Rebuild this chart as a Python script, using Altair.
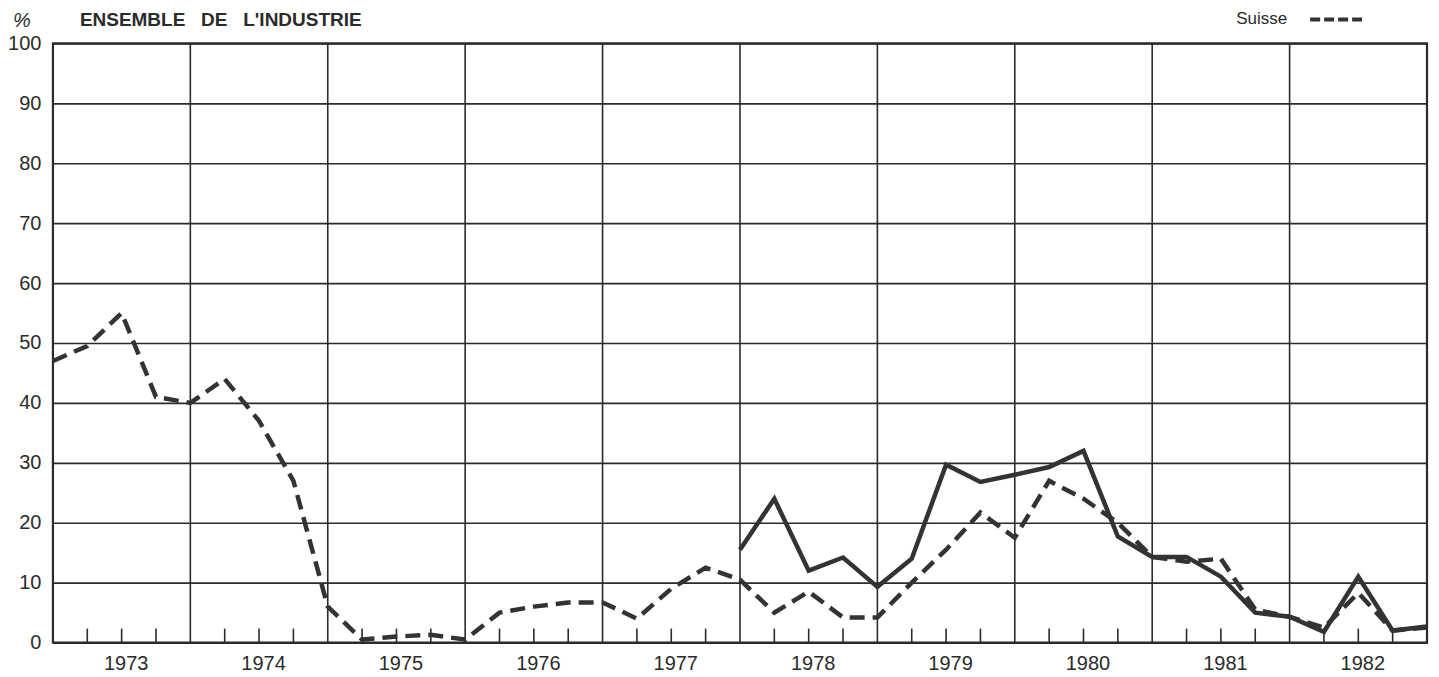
import altair as alt
import pandas as pd

# Quarter index: 0 = start of 1973, 4 per year, 40 = end of 1982
quarters = list(range(41))
suisse = [47, 49.5, 55, 41, 40, 44, 37, 27, 6, 0.5, 1, 1.3, 0.5, 5, 6, 6.7, 6.7, 4,
          9, 12.5, 10.5, 5, 8.5, 4.2, 4.2, 10, 15.5, 21.7, 17.5, 27, 24, 20, 14.3,
          13.5, 14, 5.5, 4.3, 2.5, 8.3, 2, 2.5]
other_quarters = list(range(20, 41))
other = [15.5, 24, 12, 14.2, 9.3, 14, 29.7, 26.8, 28, 29.3, 32, 17.7, 14.3, 14.3,
         11, 5, 4.3, 1.8, 11, 2, 2.7]
year_labels = [1973, 1974, 1975, 1976, 1977, 1978, 1979, 1980, 1981, 1982]
year_bounds = [4, 8, 12, 16, 20, 24, 28, 32, 36]
quarter_ticks = [q for q in range(1, 40) if q % 4 != 0]

FONT = "Liberation Sans"
INK = "#2b2b2b"
NB = "\u00a0"

df_s = pd.DataFrame({"t": quarters, "v": suisse})
df_o = pd.DataFrame({"t": other_quarters, "v": other})
df_b = pd.DataFrame({"t": year_bounds})
df_q = pd.DataFrame({"t": quarter_ticks, "v": [0] * len(quarter_ticks)})

x_scale = alt.Scale(domain=[0, 40], nice=False, zero=False)
y_scale = alt.Scale(domain=[0, 100], nice=False)

x_axis = alt.Axis(values=[2 + 4 * i for i in range(len(year_labels))],
                  labelExpr="toString(1973 + floor(datum.value / 4))",
                  ticks=False, domain=False, grid=False, title=None,
                  labelFontSize=20, labelFont=FONT, labelColor=INK,
                  labelPadding=11, labelOffset=4)
y_axis = alt.Axis(values=list(range(0, 101, 10)), ticks=False, domain=False,
                  grid=True, gridColor=INK, gridWidth=1.6, gridOpacity=1,
                  title=None, labelFontSize=20, labelFont=FONT, labelColor=INK,
                  labelPadding=12)

base_x = alt.X("t:Q", scale=x_scale, axis=x_axis)
base_y = alt.Y("v:Q", scale=y_scale, axis=y_axis)

vgrid = alt.Chart(df_b).mark_rule(color=INK, strokeWidth=1.6).encode(
    x=alt.X("t:Q", scale=x_scale, axis=x_axis))

qticks = alt.Chart(df_q).mark_rule(color=INK, strokeWidth=1.6).encode(
    x=alt.X("t:Q", scale=x_scale, axis=x_axis),
    y=alt.Y("v:Q", scale=y_scale, axis=y_axis),
    y2=alt.value(586))

line_s = alt.Chart(df_s).mark_line(color="#333333", strokeWidth=4.5,
                                    strokeDash=[15, 8]).encode(x=base_x, y=base_y)
line_o = alt.Chart(df_o).mark_line(color="#333333", strokeWidth=4.5,
                                    strokeJoin="miter").encode(x=base_x, y=base_y)

title_text = "ENSEMBLE" + NB * 3 + "DE" + NB * 3 + "L'INDUSTRIE"
title = alt.Chart(pd.DataFrame({"s": [title_text]})).mark_text(
    align="left", baseline="middle", font=FONT, fontSize=19, fontWeight="bold",
    color=INK).encode(text="s:N", x=alt.value(27), y=alt.value(-23))

pct = alt.Chart(pd.DataFrame({"s": ["%"]})).mark_text(
    align="center", baseline="middle", font=FONT, fontSize=20, fontStyle="italic",
    color=INK).encode(text="s:N", x=alt.value(-31), y=alt.value(-22))

legend_txt = alt.Chart(pd.DataFrame({"s": ["Suisse"]})).mark_text(
    align="left", baseline="middle", font=FONT, fontSize=17, color=INK).encode(
    text="s:N", x=alt.value(1185), y=alt.value(-24))

legend_dash = alt.Chart(pd.DataFrame({"s": ["Suisse"]})).mark_rule(
    color="#333333", strokeWidth=4, strokeDash=[10, 4]).encode(
    x=alt.value(1259), x2=alt.value(1312), y=alt.value(-24))

chart = alt.layer(vgrid, qticks, line_s, line_o, title, pct, legend_txt, legend_dash).properties(
    width=1376, height=600,
    autosize=alt.AutoSizeParams(type="none"),
    padding={"left": 45, "top": 35, "right": 4, "bottom": 33},
    background="white",
).configure_view(stroke=INK, strokeWidth=2.2)

chart.save("out.html", embed_options={"renderer": "svg", "actions": False})
